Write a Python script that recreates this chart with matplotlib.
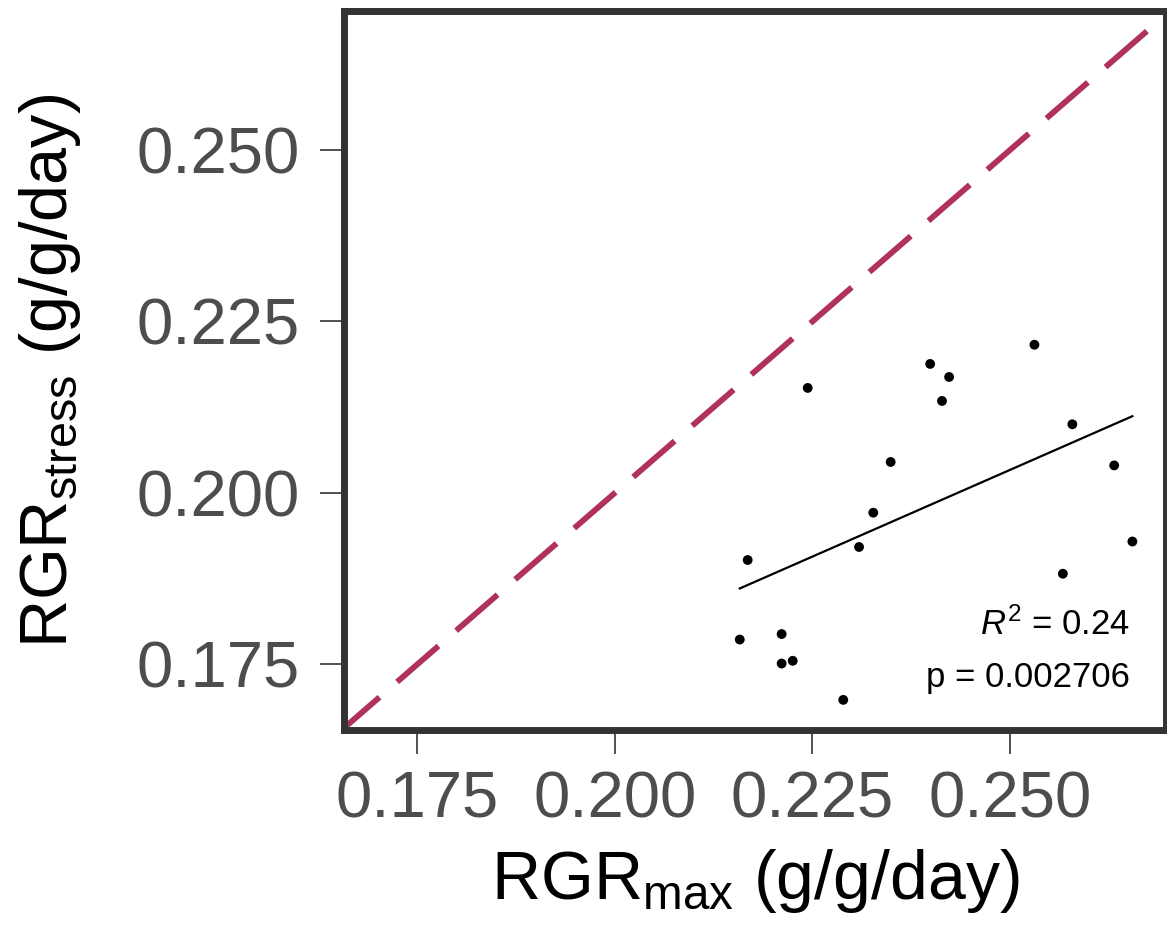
import numpy as np
import matplotlib
matplotlib.use("Agg")
import matplotlib.pyplot as plt

plt.rcParams["font.family"] = ["Liberation Sans", "DejaVu Sans"]
plt.rcParams["mathtext.fontset"] = "custom"
plt.rcParams["mathtext.rm"] = "Liberation Sans"
plt.rcParams["mathtext.it"] = "Liberation Sans:italic"

# RGR values (g/g/day)
rgr_max = [0.2531, 0.2399, 0.2423, 0.2414, 0.2244, 0.2579, 0.2349, 0.2632, 0.2327,
           0.2309, 0.2168, 0.2655, 0.2567, 0.2158, 0.2211, 0.2211, 0.2225, 0.2289]
rgr_stress = [0.2216, 0.2188, 0.2169, 0.2134, 0.2153, 0.2100, 0.2045, 0.2040, 0.1971,
              0.1921, 0.1902, 0.1929, 0.1882, 0.1786, 0.1794, 0.1751, 0.1755, 0.1698]
ticks = [0.175, 0.200, 0.225, 0.250]
r2_text = "$\\mathit{R}^{2}$ = 0.24"
p_text = "p = 0.002706"

x = np.array(rgr_max)
y = np.array(rgr_stress)

fig = plt.figure(figsize=(11.67, 9.43), dpi=100)
ax = fig.add_axes([0.2952, 0.2254, 0.7039, 0.7630])

xlim = (0.16576, 0.26975)
ylim = (0.16534, 0.27029)

# 1:1 line
one = np.array([0.15, 0.28])
ax.plot(one, one, color="#B03060", lw=4.2, dashes=(9.4, 4.0), zorder=1)

# linear fit
slope, icpt = np.polyfit(x, y, 1)
xf = np.array([x.min(), x.max()])
ax.plot(xf, icpt + slope * xf, color="black", lw=1.6, zorder=2)

ax.scatter(x, y, s=50, color="black", edgecolors="none", zorder=3)

ax.text(0.956, 0.133, r2_text, transform=ax.transAxes, ha="right", va="baseline",
        fontsize=25)
ax.text(0.956, 0.061, p_text, transform=ax.transAxes, ha="right", va="baseline",
        fontsize=25)

ax.set_xlim(*xlim)
ax.set_ylim(*ylim)
ax.set_xticks(ticks)
ax.set_yticks(ticks)
ax.set_xticklabels([f"{t:.3f}" for t in ticks])
ax.set_yticklabels([f"{t:.3f}" for t in ticks])
ax.tick_params(direction="out", length=17.5, width=1.2, color="#333333",
               labelsize=47, labelcolor="#4D4D4D")
ax.tick_params(axis="y", pad=15)
ax.tick_params(axis="x", pad=11)

for sp in ax.spines.values():
    sp.set_linewidth(5.0)
    sp.set_color("#333333")
    sp.set_zorder(5)

ax.set_xlabel(r"RGR$_{\mathrm{max}}$ (g/g/day)", fontsize=49, labelpad=12)
ax.set_ylabel(r"RGR$_{\mathrm{stress}}$ (g/g/day)", fontsize=48, labelpad=38)

fig.savefig("out.png", dpi=100)
